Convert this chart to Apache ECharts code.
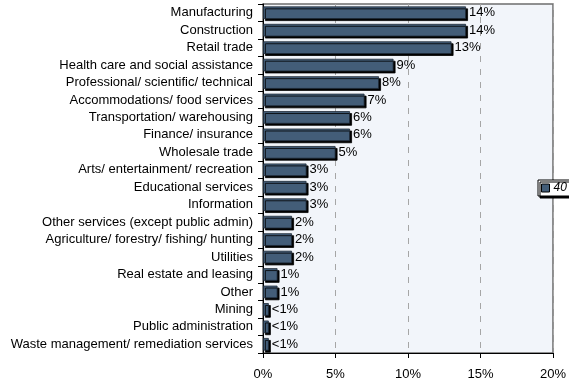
<!DOCTYPE html>
<html>
<head>
<meta charset="utf-8">
<script src="https://cdn.jsdelivr.net/npm/echarts@6/dist/echarts.min.js"></script>
<style>
  html, body { margin: 0; padding: 0; background: #ffffff; }
  #chart { width: 569px; height: 385px; }
</style>
</head>
<body>
<div id="chart"></div>
<script>
// Industry shares, listed top to bottom
const industries = [
  'Manufacturing',
  'Construction',
  'Retail trade',
  'Health care and social assistance',
  'Professional/ scientific/ technical',
  'Accommodations/ food services',
  'Transportation/ warehousing',
  'Finance/ insurance',
  'Wholesale trade',
  'Arts/ entertainment/ recreation',
  'Educational services',
  'Information',
  'Other services (except public admin)',
  'Agriculture/ forestry/ fishing/ hunting',
  'Utilities',
  'Real estate and leasing',
  'Other',
  'Mining',
  'Public administration',
  'Waste management/ remediation services'
];
const shares = [14, 14, 13, 9, 8, 7, 6, 6, 5, 3, 3, 3, 2, 2, 2, 1, 1, 0.4, 0.4, 0.4];
const seriesName = '40 and older';
const xTicks = [0, 5, 10, 15, 20];

const FONT = '"Liberation Sans", Arial, sans-serif';
const chart = echarts.init(document.getElementById('chart'), null, { renderer: 'canvas' });

chart.setOption({
  animation: false,
  textStyle: { fontFamily: FONT },
  grid: {
    left: 263, right: 15, top: 4, bottom: 32,
    show: true,
    backgroundColor: '#f2f5fa',
    borderColor: '#6e6e6e',
    borderWidth: 1.5
  },
  legend: {
    data: [seriesName],
    left: 538, top: 180,
    orient: 'vertical',
    backgroundColor: '#ffffff',
    borderColor: '#000000',
    borderWidth: 1,
    padding: [2, 3, 2, 3],
    shadowColor: '#000000',
    shadowBlur: 0,
    shadowOffsetX: 2,
    shadowOffsetY: 2,
    icon: 'rect',
    itemWidth: 8,
    itemHeight: 8,
    itemGap: 4,
    itemStyle: { borderColor: '#000000', borderWidth: 1, shadowBlur: 0, shadowOffsetX: 0, shadowOffsetY: 0 },
    textStyle: { fontSize: 12, fontStyle: 'italic', color: '#000', fontFamily: FONT, padding: [0, 0, 0, -1] }
  },
  xAxis: {
    type: 'value',
    min: xTicks[0],
    max: xTicks[xTicks.length - 1],
    interval: 5,
    axisLine: { show: true, lineStyle: { color: '#000', width: 1 } },
    axisTick: { show: true, length: 5, lineStyle: { color: '#000' } },
    axisLabel: {
      margin: 15,
      fontSize: 13,
      color: '#000',
      fontFamily: FONT,
      formatter: v => v + '%'
    },
    splitLine: {
      show: true,
      lineStyle: { color: '#a6a6a6', type: [6, 7], width: 1 }
    }
  },
  yAxis: {
    type: 'category',
    inverse: true,
    data: industries,
    axisLine: { show: true, lineStyle: { color: '#000', width: 1 } },
    axisTick: { show: true, length: 5, lineStyle: { color: '#000' } },
    axisLabel: { margin: 10, fontSize: 13, color: '#000', fontFamily: FONT }
  },
  series: [{
    name: seriesName,
    type: 'bar',
    data: shares,
    barCategoryGap: '28%',
    itemStyle: {
      color: '#435d78',
      borderColor: '#1e2a36',
      borderWidth: 0.8,
      shadowColor: '#000000',
      shadowBlur: 0,
      shadowOffsetX: 2,
      shadowOffsetY: 2
    },
    label: {
      show: true,
      position: 'right',
      distance: 3,
      fontSize: 13,
      color: '#000',
      fontFamily: FONT,
      formatter: p => (p.value < 1 ? '<1%' : Math.round(p.value) + '%')
    }
  }]
});
</script>
</body>
</html>
